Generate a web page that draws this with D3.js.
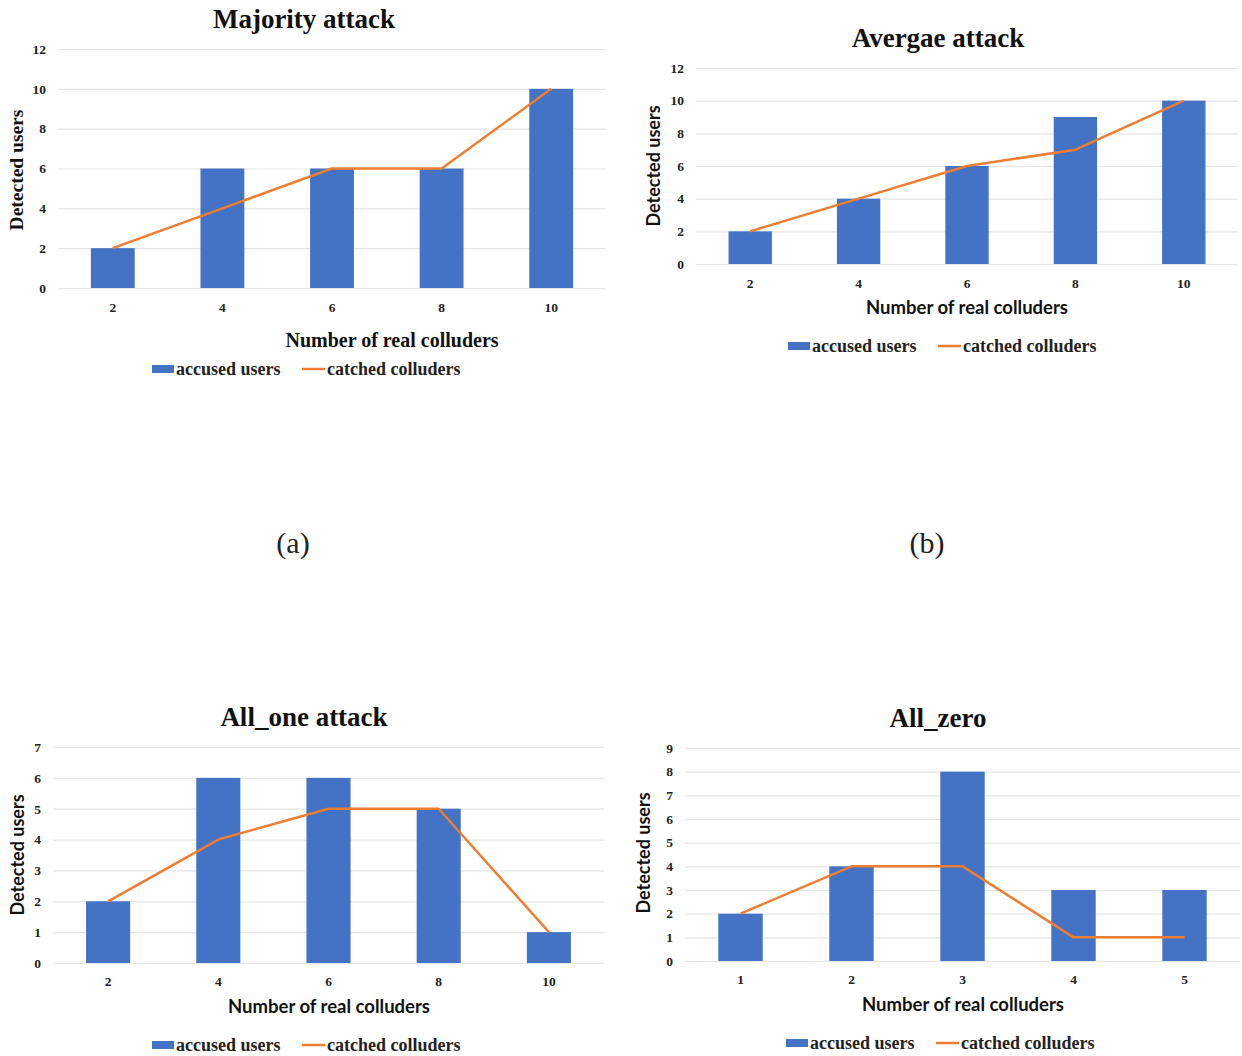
<!DOCTYPE html>
<html>
<head>
<meta charset="utf-8">
<script src="https://cdn.jsdelivr.net/npm/d3@7"></script>
<style>
  body { margin: 0; background: #fff; }
  svg { display: block; }
</style>
</head>
<body>
<div id="chart"></div>
<script>
// values
var titles = ["Majority attack", "Avergae attack", "All_one attack", "All_zero"];
var catsEven = ["2", "4", "6", "8", "10"];
var catsOne = ["1", "2", "3", "4", "5"];

var accusedA = [2, 6, 6, 6, 10];
var catchedA = [2, 4, 6, 6, 10];
var accusedB = [2, 4, 6, 9, 10];
var catchedB = [2, 4, 6, 7, 10];
var accusedC = [2, 6, 6, 5, 1];
var catchedC = [2, 4, 5, 5, 1];
var accusedD = [2, 4, 8, 3, 3];
var catchedD = [2, 4, 4, 1, 1];

var yTicksA = [0, 2, 4, 6, 8, 10, 12];
var yTicksC = [0, 1, 2, 3, 4, 5, 6, 7];
var yTicksD = [0, 1, 2, 3, 4, 5, 6, 7, 8, 9];

var seriesNames = ["accused users", "catched colluders"];
var subLabels = ["(a)", "(b)"];

var blue = "#4472c4", orange = "#ed7d31", grid = "#e6e6e6";
var serif = "'Liberation Serif', 'Times New Roman', serif";
var sans = "Lato, 'Open Sans', sans-serif";

var svg = d3.select("#chart").append("svg")
    .attr("width", 1242)
    .attr("height", 1056);

// layout of each panel (pixels)
var panels = [
  { title: titles[0], cats: catsEven, bars: accusedA, line: catchedA, ticks: yTicksA,
    x0: 58, x1: 606, yTop: 49, yBot: 288, titleX: 304, titleY: 28,
    tickX: 46, xTickY: 312, xTitleX: 392, xTitleY: 347, xTitleFont: serif, xTitleSize: 20,
    yTitleX: 23, yTitleY: 170, yTitleFont: serif, yTitleSize: 19.5,
    legX: 152, legY: 369 },
  { title: titles[1], cats: catsEven, bars: accusedB, line: catchedB, ticks: yTicksA,
    x0: 696, x1: 1238, yTop: 68, yBot: 264, titleX: 938, titleY: 47,
    tickX: 684, xTickY: 288, xTitleX: 967, xTitleY: 314, xTitleFont: sans, xTitleSize: 18.5,
    yTitleX: 660, yTitleY: 166, yTitleFont: sans, yTitleSize: 18,
    legX: 788, legY: 346 },
  { title: titles[2], cats: catsEven, bars: accusedC, line: catchedC, ticks: yTicksC,
    x0: 53, x1: 604, yTop: 747, yBot: 963, titleX: 304, titleY: 726,
    tickX: 41, xTickY: 986, xTitleX: 329, xTitleY: 1013, xTitleFont: sans, xTitleSize: 18.5,
    yTitleX: 24, yTitleY: 855, yTitleFont: sans, yTitleSize: 18,
    legX: 152, legY: 1045 },
  { title: titles[3], cats: catsOne, bars: accusedD, line: catchedD, ticks: yTicksD,
    x0: 685, x1: 1240, yTop: 748, yBot: 961, titleX: 938, titleY: 727,
    tickX: 673, xTickY: 984, xTitleX: 963, xTitleY: 1011, xTitleFont: sans, xTitleSize: 18.5,
    yTitleX: 650, yTitleY: 853, yTitleFont: sans, yTitleSize: 18,
    legX: 786, legY: 1043 }
];

function drawPanel(p) {
  var g = svg.append("g");
  var data = p.cats.map(function(c, i) { return { cat: c, bar: p.bars[i], line: p.line[i] }; });

  var x = d3.scaleBand().domain(p.cats).range([p.x0, p.x1]).padding(0);
  var y = d3.scaleLinear().domain([0, d3.max(p.ticks)]).range([p.yBot, p.yTop]);

  // gridlines + y tick labels
  var yAxis = g.append("g")
      .attr("transform", "translate(" + p.x0 + ",0)")
      .call(d3.axisLeft(y).tickValues(p.ticks).tickFormat(d3.format("d"))
        .tickSize(-(p.x1 - p.x0)).tickPadding(p.x0 - p.tickX));
  yAxis.select(".domain").remove();
  yAxis.selectAll("line").attr("stroke", grid).attr("stroke-width", 1.2);
  yAxis.selectAll("text")
      .attr("font-family", serif).attr("font-weight", "bold")
      .attr("font-size", 13.5).attr("fill", "#222");

  // x tick labels
  var xAxis = g.append("g")
      .attr("transform", "translate(0," + p.yBot + ")")
      .call(d3.axisBottom(x).tickSize(0).tickPadding(p.xTickY - p.yBot - 10));
  xAxis.select(".domain").remove();
  xAxis.selectAll("text")
      .attr("font-family", serif).attr("font-weight", "bold")
      .attr("font-size", 13.5).attr("fill", "#222");

  // bars
  var bw = x.bandwidth();
  g.selectAll("rect.bar").data(data).enter().append("rect")
      .attr("class", "bar")
      .attr("x", function(d) { return x(d.cat) + bw * 0.3; })
      .attr("width", bw * 0.4)
      .attr("y", function(d) { return y(d.bar); })
      .attr("height", function(d) { return p.yBot - y(d.bar); })
      .attr("fill", blue);

  // line
  var line = d3.line()
      .x(function(d) { return x(d.cat) + bw / 2; })
      .y(function(d) { return y(d.line); });
  g.append("path").datum(data)
      .attr("d", line)
      .attr("fill", "none")
      .attr("stroke", orange)
      .attr("stroke-width", 2.5)
      .attr("stroke-linejoin", "round");

  // title
  g.append("text")
      .attr("x", p.titleX).attr("y", p.titleY)
      .attr("text-anchor", "middle")
      .attr("font-family", serif).attr("font-weight", "bold")
      .attr("font-size", 27).attr("fill", "#111")
      .text(p.title);

  // axis titles
  g.append("text")
      .attr("x", p.xTitleX).attr("y", p.xTitleY)
      .attr("text-anchor", "middle")
      .attr("font-family", p.xTitleFont).attr("font-weight", "bold")
      .attr("font-size", p.xTitleSize).attr("fill", "#111")
      .text("Number of real colluders");

  g.append("text")
      .attr("transform", "translate(" + p.yTitleX + "," + p.yTitleY + ") rotate(-90)")
      .attr("text-anchor", "middle")
      .attr("font-family", p.yTitleFont).attr("font-weight", "bold")
      .attr("font-size", p.yTitleSize).attr("fill", "#111")
      .text("Detected users");

  // legend
  var lg = g.append("g").attr("transform", "translate(" + p.legX + "," + p.legY + ")");
  lg.append("rect").attr("x", 0).attr("y", -4).attr("width", 22).attr("height", 8).attr("fill", blue);
  lg.append("text").attr("x", 24).attr("y", 6)
      .attr("font-family", serif).attr("font-weight", "bold")
      .attr("font-size", 18).attr("fill", "#222")
      .text(seriesNames[0]);
  lg.append("line").attr("x1", 150).attr("x2", 173).attr("y1", 0).attr("y2", 0)
      .attr("stroke", orange).attr("stroke-width", 2.5);
  lg.append("text").attr("x", 175).attr("y", 6)
      .attr("font-family", serif).attr("font-weight", "bold")
      .attr("font-size", 18).attr("fill", "#222")
      .text(seriesNames[1]);
}

panels.forEach(drawPanel);

// sub-figure labels
svg.selectAll("text.sub").data(subLabels).enter().append("text")
    .attr("class", "sub")
    .attr("x", function(d, i) { return i === 0 ? 293 : 927; })
    .attr("y", 553)
    .attr("text-anchor", "middle")
    .attr("font-family", serif)
    .attr("font-size", 30)
    .attr("fill", "#222")
    .text(function(d) { return d; });
</script>
</body>
</html>
